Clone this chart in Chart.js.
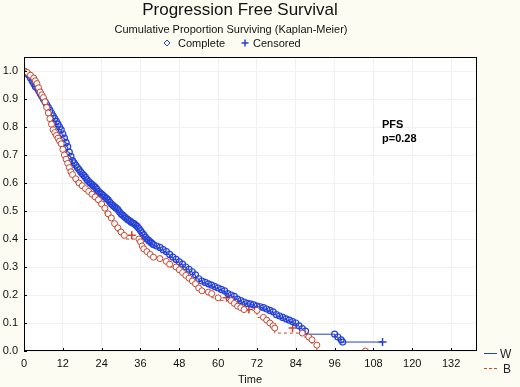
<!DOCTYPE html>
<html>
<head>
<meta charset="utf-8">
<script src="https://cdn.jsdelivr.net/npm/chart.js@4/dist/chart.umd.min.js"></script>
<style>
  body { margin: 0; background: #fdfcf2; }
  canvas { display: block; }
</style>
</head>
<body>
<canvas id="km" width="520" height="387"></canvas>
<script>
// group W (blue, solid) - event times and survival
const wTime = [0, 0.5, 1, 1.5, 2, 2.5, 3, 3.5, 4, 4.5, 5, 5.5, 6, 6.5, 7, 7.5, 8, 8.5, 9, 9.5,
  10, 10.5, 11, 11.5, 12, 12.5, 13, 13.5, 14, 14.5, 15, 15.5, 16, 16.5, 17, 17.5, 18, 18.5, 19, 19.5,
  20, 20.5, 21, 21.5, 22, 22.5, 23, 23.5, 24, 24.5, 25, 25.5, 26, 26.5, 27, 27.5, 28, 28.5, 29, 29.5,
  30, 30.5, 31, 31.5, 32, 32.5, 33, 33.5, 34, 34.5, 35, 35.5, 36, 36.5, 37, 37.5, 38, 38.5, 39, 39.5,
  40, 41, 42, 43, 44, 45, 46, 47, 48, 49, 50, 51, 52, 53, 54, 55, 56, 57, 58, 59, 60, 61, 62, 63,
  64, 65, 66, 67, 68, 69, 70, 71, 72, 73, 74, 75, 76, 77, 78, 79, 80, 81, 82, 83, 84, 85, 86, 87,
  96, 97, 98, 98.5, 110.8]
const wSurv = [1.0, 0.995, 0.99, 0.985, 0.975, 0.965, 0.955, 0.945, 0.94, 0.93, 0.92, 0.91, 0.9, 0.89, 0.88, 0.87, 0.86, 0.85, 0.84, 0.83,
  0.82, 0.81, 0.8, 0.79, 0.775, 0.76, 0.745, 0.73, 0.71, 0.695, 0.68, 0.672, 0.663, 0.655, 0.648, 0.64, 0.633, 0.627, 0.62, 0.612,
  0.605, 0.6, 0.595, 0.59, 0.585, 0.578, 0.57, 0.565, 0.56, 0.555, 0.55, 0.545, 0.54, 0.532, 0.525, 0.52, 0.515, 0.51, 0.505, 0.497,
  0.49, 0.485, 0.48, 0.475, 0.47, 0.466, 0.462, 0.458, 0.455, 0.45, 0.445, 0.438, 0.43, 0.422, 0.415, 0.407, 0.4, 0.395, 0.39, 0.385,
  0.38, 0.375, 0.37, 0.362, 0.355, 0.345, 0.335, 0.327, 0.318, 0.31, 0.3, 0.292, 0.283, 0.272, 0.258, 0.25, 0.245, 0.24, 0.235, 0.23, 0.225, 0.22, 0.215, 0.205,
  0.2, 0.195, 0.185, 0.18, 0.175, 0.17, 0.168, 0.165, 0.16, 0.158, 0.155, 0.15, 0.145, 0.14, 0.13, 0.125, 0.12, 0.115, 0.11, 0.105, 0.1, 0.09, 0.08, 0.071,
  0.06, 0.05, 0.04, 0.032, 0.032]
const wCensTime = [110.8]
const wCensSurv = [0.032]

// group B (red, dashed)
const bTime = [0, 1, 2, 3, 3.5, 4, 4.5, 5, 5.5, 6, 6.5, 7, 7.5, 8, 8.5, 9, 9.5, 10, 10.5, 11, 11.5,
  12, 12.5, 13, 13.5, 14, 14.5, 15, 16, 17, 18, 19, 20, 21, 22, 23, 24, 25, 26, 27, 28, 29, 30, 31,
  35.5, 36, 36.5, 37, 38, 39, 40, 42, 44, 45, 47, 48, 49, 50, 51, 52, 53, 54, 55, 57, 58, 60,
  64, 65, 66, 67, 68, 72, 74, 75, 76, 77, 77.5, 86, 88, 89, 90.5, 105.5]
const bSurv = [1.0, 0.995, 0.985, 0.975, 0.965, 0.955, 0.94, 0.925, 0.915, 0.905, 0.89, 0.87, 0.85, 0.83, 0.81, 0.79, 0.78, 0.77, 0.76, 0.75, 0.74,
  0.72, 0.7, 0.685, 0.67, 0.655, 0.64, 0.63, 0.615, 0.6, 0.59, 0.58, 0.57, 0.56, 0.55, 0.54, 0.525, 0.51, 0.49, 0.475, 0.455, 0.44, 0.425, 0.413,
  0.4, 0.39, 0.375, 0.365, 0.355, 0.345, 0.335, 0.33, 0.32, 0.31, 0.3, 0.29, 0.28, 0.27, 0.26, 0.25, 0.24, 0.225, 0.215, 0.21, 0.205, 0.19,
  0.18, 0.17, 0.16, 0.155, 0.148, 0.145, 0.12, 0.11, 0.1, 0.09, 0.082, 0.064, 0.05, 0.04, 0.021, 0.0]
const bCensTime = [33.3, 62.6, 69.5, 83]
const bCensSurv = [0.413, 0.19, 0.148, 0.082]

const xTicks = [0, 12, 24, 36, 48, 60, 72, 84, 96, 108, 120, 132]
const yTicks = [0, 0.1, 0.2, 0.3, 0.4, 0.5, 0.6, 0.7, 0.8, 0.9, 1.0]

const blue = '#2341d6'
const red = '#c8452c'

function pts(t, s) {
  return t.map((v, i) => ({x: v, y: s[i]}))
}

const frame = {
  id: 'frame',
  beforeDraw(chart) {
    const c = chart.ctx, a = chart.chartArea
    c.save()
    c.fillStyle = '#fdfcf2'
    c.fillRect(0, 0, chart.width, chart.height)
    c.fillStyle = '#ffffff'
    c.fillRect(a.left, a.top, a.right - a.left, a.bottom - a.top)
    c.restore()
  },
  afterDraw(chart) {
    const c = chart.ctx, a = chart.chartArea
    const xs = chart.scales.x, ys = chart.scales.y
    c.save()
    c.strokeStyle = '#000'
    c.lineWidth = 1
    c.strokeRect(a.left + 0.5, a.top + 0.5, a.right - a.left - 1, a.bottom - a.top - 1)
    c.beginPath()
    xTicks.forEach(t => {
      const px = Math.round(xs.getPixelForValue(t)) + 0.5
      c.moveTo(px, a.bottom); c.lineTo(px, a.bottom - 3)
    })
    yTicks.forEach(t => {
      const py = Math.round(ys.getPixelForValue(t)) + 0.5
      c.moveTo(a.left, py); c.lineTo(a.left + 3, py)
    })
    c.stroke()

    c.fillStyle = '#111'
    c.textAlign = 'center'
    c.textBaseline = 'alphabetic'
    c.font = '17px "Liberation Sans", Arial, sans-serif'
    c.fillText('Progression Free Survival', 240, 15)
    c.font = '11px "Liberation Sans", Arial, sans-serif'
    c.fillText('Cumulative Proportion Surviving (Kaplan-Meier)', 231, 33)
    c.fillText('Time', 250, 383)

    // top legend
    c.textAlign = 'left'
    c.fillText('Complete', 178, 47)
    c.fillText('Censored', 253, 47)
    c.strokeStyle = blue
    c.beginPath()
    c.moveTo(167, 40); c.lineTo(170, 43); c.lineTo(167, 46); c.lineTo(164, 43); c.closePath()
    c.stroke()
    c.lineWidth = 1.5
    c.beginPath()
    c.moveTo(245, 39.5); c.lineTo(245, 46.5)
    c.moveTo(241.5, 43); c.lineTo(248.5, 43)
    c.stroke()

    // annotation
    c.font = 'bold 11px "Liberation Sans", Arial, sans-serif'
    c.fillStyle = '#000'
    c.fillText('PFS', 382, 128)
    c.fillText('p=0.28', 382, 142)

    // group legend
    c.font = '12px "Liberation Sans", Arial, sans-serif'
    c.fillStyle = '#222'
    c.fillText('W', 500, 358)
    c.fillText('B', 503, 373)
    c.lineWidth = 1
    c.strokeStyle = blue
    c.beginPath(); c.moveTo(484, 353.5); c.lineTo(497, 353.5); c.stroke()
    c.strokeStyle = red
    c.setLineDash([3, 2])
    c.beginPath(); c.moveTo(484, 368.5); c.lineTo(497, 368.5); c.stroke()
    c.restore()
  }
}

new Chart(document.getElementById('km'), {
  type: 'line',
  data: {
    datasets: [
      {
        label: 'B',
        data: pts(bTime, bSurv),
        stepped: 'after',
        borderColor: red,
        borderWidth: 1,
        borderDash: [3, 3],
        pointRadius: 3,
        pointBorderWidth: 1,
        pointBorderColor: red,
        pointBackgroundColor: '#ffffff'
      },
      {
        label: 'W',
        data: pts(wTime, wSurv),
        stepped: 'after',
        borderColor: blue,
        borderWidth: 1,
        pointRadius: ctx => ctx.dataIndex === wTime.length - 1 ? 0 : 3,
        pointBorderWidth: 1.2,
        pointBorderColor: blue,
        pointBackgroundColor: 'rgba(255,255,255,0)'
      },
      {
        label: 'B censored',
        data: pts(bCensTime, bCensSurv),
        showLine: false,
        pointStyle: 'cross',
        pointRadius: 4,
        pointBorderWidth: 1.5,
        pointBorderColor: red
      },
      {
        label: 'W censored',
        data: pts(wCensTime, wCensSurv),
        showLine: false,
        pointStyle: 'cross',
        pointRadius: 4,
        pointBorderWidth: 1.5,
        pointBorderColor: blue
      }
    ]
  },
  plugins: [frame],
  options: {
    responsive: false,
    animation: false,
    devicePixelRatio: 1,
    layout: {padding: {top: 57, right: 43, left: 0, bottom: 0}},
    plugins: {
      legend: {display: false},
      tooltip: {enabled: false}
    },
    scales: {
      x: {
        type: 'linear',
        min: 0,
        max: 140,
        afterBuildTicks: s => { s.ticks = xTicks.map(v => ({value: v})) },
        afterFit: s => { s.height = 36 },
        ticks: {padding: 6, color: '#111', font: {family: '"Liberation Sans", Arial', size: 11}, maxRotation: 0},
        grid: {color: '#f1f1f1', drawTicks: false},
        border: {display: false}
      },
      y: {
        min: 0,
        max: 1.05,
        afterBuildTicks: s => { s.ticks = yTicks.map(v => ({value: v})) },
        afterFit: s => { s.width = 24 },
        ticks: {padding: 6, color: '#111', font: {family: '"Liberation Sans", Arial', size: 11},
          callback: v => v.toFixed(1)},
        grid: {color: '#f1f1f1', drawTicks: false},
        border: {display: false}
      }
    }
  }
})
</script>
</body>
</html>
